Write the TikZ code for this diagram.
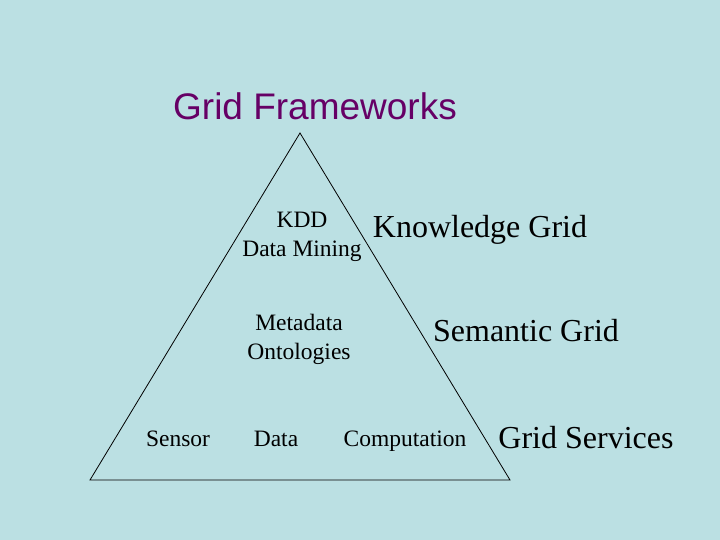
\documentclass[tikz,border=0pt]{standalone}
\usepackage{fontspec}
\setmainfont{Liberation Serif}
\newfontfamily\arialf{Liberation Sans}
\definecolor{bgc}{RGB}{187,224,227}
\definecolor{ttl}{RGB}{102,0,102}
\begin{document}
\begin{tikzpicture}[x=1pt,y=-1pt,
  sm/.style={font=\fontsize{23.5}{29}\selectfont,align=center,inner sep=0},
  big/.style={font=\fontsize{32}{36}\selectfont,inner sep=0}]
\fill[bgc] (0,0) rectangle (720,540);
\useasboundingbox (0,0) rectangle (720,540);
\coordinate (A) at (300,133);
\coordinate (B) at (90,480);
\coordinate (C) at (510,480);
\draw[black,line width=0.8pt] (A) -- (B) -- (C) -- cycle;
\node[inner sep=0,text=ttl,font=\arialf\fontsize{37}{42}\selectfont] (t) at (315,106) {Grid Frameworks};
\node[sm] (kdd) at (302,237) {KDD\\Data Mining};
\node[big] (kg) at (480,230) {Knowledge Grid};
\node[sm] (md) at (299,339) {Metadata\\Ontologies};
\node[big] (sg) at (526,331) {Semantic Grid};
\node[sm,anchor=base] (se) at (178,446) {Sensor};
\node[sm,anchor=base] (da) at (276,446) {Data};
\node[sm,anchor=base] (co) at (405,446) {Computation};
\node[big,anchor=base] (gs) at (586,448) {Grid Services};
\end{tikzpicture}
\end{document}
